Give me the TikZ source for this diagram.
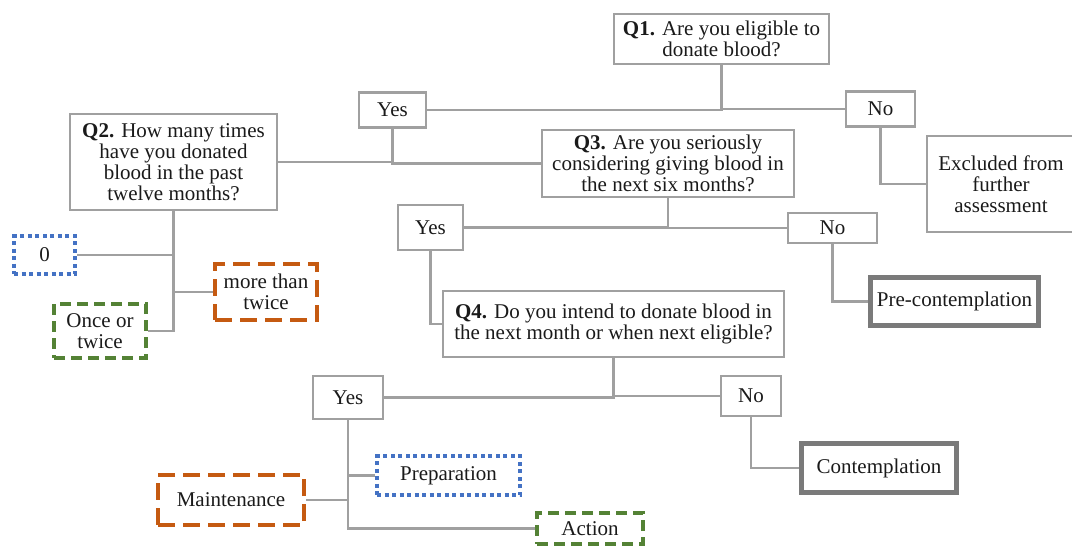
\documentclass[tikz,border=0pt]{standalone}
\usepackage{fontspec}
\setmainfont{Liberation Serif}
\definecolor{linegray}{HTML}{A0A0A0}
\definecolor{darkframe}{HTML}{7A7A7A}
\definecolor{stageblue}{HTML}{4472C4}
\definecolor{stageorange}{HTML}{C55A11}
\definecolor{stagegreen}{HTML}{548235}
\definecolor{inkcol}{HTML}{1A1A1A}

\begin{document}
\begin{tikzpicture}[x=1pt, y=-1pt,
  every node/.style={font=\fontsize{21}{21}\selectfont, align=center,
    inner sep=0pt, text=inkcol},
  qbox/.style={draw=linegray, line width=2.5pt, rectangle},
  stagebox/.style={draw=darkframe, line width=5pt, rectangle},
  dotbox/.style={draw=stageblue, line width=4pt, dash pattern=on 4pt off 3.5pt},
  longdash/.style={draw=stageorange, line width=4pt, dash pattern=on 17pt off 8pt},
  shortdash/.style={draw=stagegreen, line width=4pt, dash pattern=on 11pt off 6pt},
  conn/.style={draw=linegray, line width=2.5pt},
  sz/.style 2 args={minimum width=#1pt, minimum height=#2pt}
]
\useasboundingbox (0,0) rectangle (1072,547);

% questions and answers
\node[qbox, sz={215}{50}] (q1) at (721.5,39) {\textbf{Q1.} Are you eligible to\\donate blood?};
\node[qbox, sz={67}{35}] (yes1) at (392.5,110) {Yes};
\node[qbox, sz={69}{35}] (no1) at (880.5,109) {No};
\node[qbox, sz={207}{96}] (q2) at (173.5,162) {\textbf{Q2.} How many times\\have you donated\\blood in the past\\twelve months?};
\node[qbox, sz={252}{67}] (q3) at (668,163.5) {\textbf{Q3.} Are you seriously\\considering giving blood in\\the next six months?};
\node[qbox, sz={148}{96}] (excl) at (1001,184) {Excluded from\\further\\assessment};

\node[dotbox, sz={61}{38}] (zero) at (44.5,255) {0};
\node[longdash, sz={102}{56}] (more) at (266,292) {more than\\twice};
\node[shortdash, sz={92}{54}] (once) at (100,331) {Once or\\twice};

\node[qbox, sz={65}{45}] (yes2) at (430.5,227.5) {Yes};
\node[qbox, sz={89}{30}] (no2) at (832.5,228) {No};
\node[qbox, sz={341}{66}] (q4) at (613.5,324) {\textbf{Q4.} Do you intend to donate blood in\\the next month or when next eligible?};
\node[stagebox, sz={168}{48}] (pre) at (954.5,301.5) {Pre-contemplation};

\node[qbox, sz={70}{43}] (yes3) at (348,397.5) {Yes};
\node[qbox, sz={60}{40}] (no3) at (751,396) {No};
\node[stagebox, sz={155}{49}] (cont) at (879,468) {Contemplation};

\node[dotbox, sz={143}{39}] (prep) at (448.5,475.5) {Preparation};
\node[longdash, sz={146}{50}] (maint) at (231,500) {Maintenance};
\node[shortdash, sz={106}{31}] (action) at (590,528.5) {Action};

% connectors
\draw[conn] (yes1.east) -| (q1.south);
\draw[conn] (no1.west) -| (q1.south);
\draw[conn] (yes1.south) |- (q2.east);
\draw[conn] (yes1.south) |- (q3.west);
\draw[conn] (no1.south) |- (excl.west);

\draw[conn] (zero.east) -| (q2.south);
\draw[conn] (more.west) -| (q2.south);
\draw[conn] (once.east) -| (q2.south);

\draw[conn] (yes2.east) -| (q3.south);
\draw[conn] (no2.west) -| (q3.south);
\draw[conn] (yes2.south) |- (q4.west);
\draw[conn] (no2.south) |- (pre.west);

\draw[conn] (yes3.east) -| (q4.south);
\draw[conn] (no3.west) -| (q4.south);
\draw[conn] (no3.south) |- (cont.west);

\draw[conn] (yes3.south) |- (prep.west);
\draw[conn] (maint.east) -| (yes3.south);
\draw[conn] (yes3.south) |- (action.west);
\end{tikzpicture}
\end{document}
